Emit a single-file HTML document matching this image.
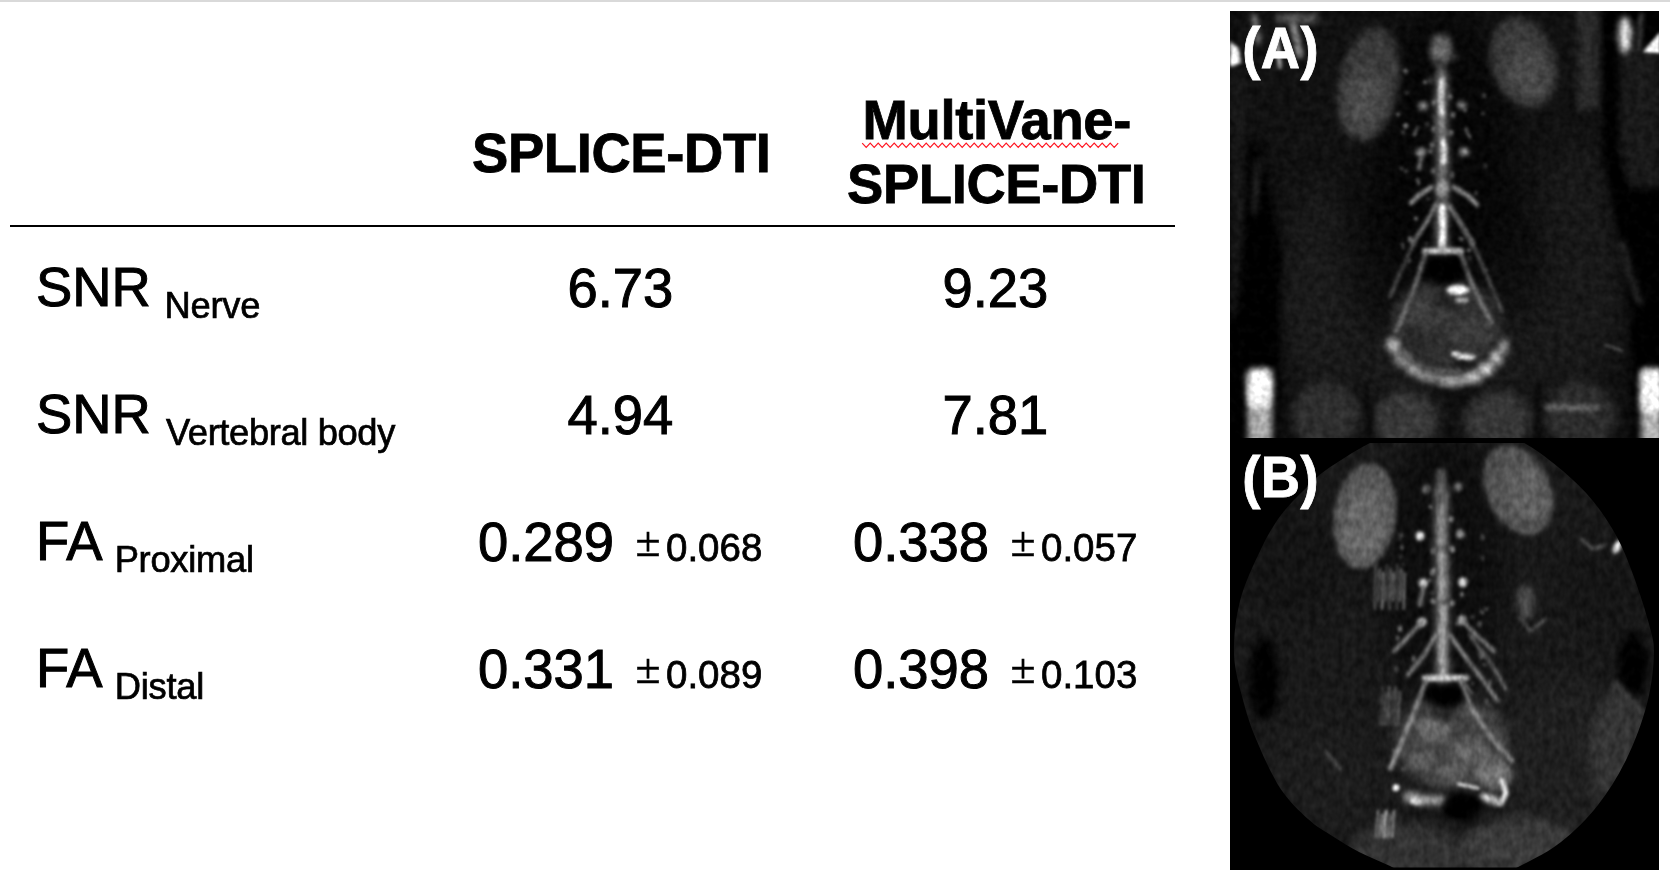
<!DOCTYPE html>
<html lang="en">
<head>
<meta charset="utf-8">
<title>SPLICE-DTI vs MultiVane-SPLICE-DTI</title>
<style>
  html, body { margin: 0; padding: 0; background: #fff; }
  body { width: 1670px; height: 878px; position: relative; overflow: hidden;
         font-family: "Liberation Sans", "Noto Sans CJK JP", sans-serif; color: #000; }
  .topbar { position: absolute; left: 0; top: 0; width: 1670px; height: 2px; background: #d9d9d9; }
  .rule { position: absolute; left: 10px; top: 225px; width: 1165px; height: 2px; background: #000; }
  .t { position: absolute; white-space: nowrap; line-height: 1; margin: 0; transform-origin: 0 84.65%; }
  .hd { font-weight: bold; font-size: 54.4px; letter-spacing: -0.36px; -webkit-text-stroke: 0.8px #000; transform: scaleY(1.015); }
  .big { font-size: 54.4px; -webkit-text-stroke: 1px #000; transform: scaleY(1.02); }
  .sub { font-size: 36.3px; position: relative; top: 12.3px; -webkit-text-stroke: 0.7px #000; }
  .sm { font-size: 38.5px; -webkit-text-stroke: 0.75px #000; transform: scaleY(1.02); }
  .pm { font-family: "IPAGothic", "Noto Sans CJK JP", sans-serif; font-size: 31px; -webkit-text-stroke: 0.5px #000; position: relative; top: -3.5px; margin-left: 1px; margin-right: 2.5px; display: inline-block; transform: scaleY(1.09); transform-origin: 50% 80%; }
  #panel { position: absolute; left: 1230px; top: 11px; width: 429px; height: 859px; background: #000; overflow: hidden; }
  .lab { color: #fff; font-weight: bold; font-size: 54.4px; letter-spacing: 0.5px; -webkit-text-stroke: 0.8px #fff; transform: scaleY(1.043); }
</style>
</head>
<body>
<div class="topbar"></div>

<!-- header -->
<div class="t hd" id="h1" style="left:472px; top:127px;">SPLICE-DTI</div>
<div class="t hd" id="h2a" style="left:862.6px; top:94px;">MultiVane-</div>
<svg id="sq" style="position:absolute; left:860px; top:140px;" width="262" height="10" viewBox="0 0 262 10">
  <polyline fill="none" stroke="#ff1420" stroke-width="1.15" stroke-linejoin="miter"
    points="2.2,3.1 6.2,7.3 10.2,3.1 14.2,7.3 18.2,3.1 22.2,7.3 26.2,3.1 30.2,7.3 34.2,3.1 38.2,7.3 42.2,3.1 46.2,7.3 50.2,3.1 54.2,7.3 58.2,3.1 62.2,7.3 66.2,3.1 70.2,7.3 74.2,3.1 78.2,7.3 82.2,3.1 86.2,7.3 90.2,3.1 94.2,7.3 98.2,3.1 102.2,7.3 106.2,3.1 110.2,7.3 114.2,3.1 118.2,7.3 122.2,3.1 126.2,7.3 130.2,3.1 134.2,7.3 138.2,3.1 142.2,7.3 146.2,3.1 150.2,7.3 154.2,3.1 158.2,7.3 162.2,3.1 166.2,7.3 170.2,3.1 174.2,7.3 178.2,3.1 182.2,7.3 186.2,3.1 190.2,7.3 194.2,3.1 198.2,7.3 202.2,3.1 206.2,7.3 210.2,3.1 214.2,7.3 218.2,3.1 222.2,7.3 226.2,3.1 230.2,7.3 234.2,3.1 238.2,7.3 242.2,3.1 246.2,7.3 250.2,3.1 254.2,7.3 258.2,3.1"/>
</svg>
<div class="t hd" id="h2b" style="left:847px; top:158.2px;">SPLICE-DTI</div>
<div class="rule"></div>

<!-- row labels -->
<div class="t big" id="r1" style="left:36px; top:261px;">SNR <span class="sub" style="margin-left:-1.5px; letter-spacing:-0.2px;">Nerve</span></div>
<div class="t big" id="r2" style="left:36px; top:388px;">SNR <span class="sub" style="letter-spacing:-0.36px;">Vertebral body</span></div>
<div class="t big" id="r3" style="left:36px; top:515px;">FA <span class="sub" style="letter-spacing:-0.25px;">Proximal</span></div>
<div class="t big" id="r4" style="left:36px; top:642px;">FA <span class="sub" style="letter-spacing:-0.2px;">Distal</span></div>

<!-- values col 1 -->
<div class="t big" id="a1" style="left:567.5px; top:261.8px;">6.73</div>
<div class="t big" id="a2" style="left:567.5px; top:388.8px;">4.94</div>
<div class="t big" id="a3" style="left:478px; top:515.8px;">0.289</div>
<div class="t big" id="a4" style="left:478px; top:642.8px;">0.331</div>
<div class="t sm" id="a3e" style="left:631.5px; top:528.5px;"><span class="pm">±</span>0.068</div>
<div class="t sm" id="a4e" style="left:631.5px; top:655.5px;"><span class="pm">±</span>0.089</div>

<!-- values col 2 -->
<div class="t big" id="b1" style="left:942.5px; top:261.8px;">9.23</div>
<div class="t big" id="b2" style="left:942.5px; top:388.8px;">7.81</div>
<div class="t big" id="b3" style="left:853px; top:515.8px;">0.338</div>
<div class="t big" id="b4" style="left:853px; top:642.8px;">0.398</div>
<div class="t sm" id="b3e" style="left:1006.5px; top:528.5px;"><span class="pm">±</span>0.057</div>
<div class="t sm" id="b4e" style="left:1006.5px; top:655.5px;"><span class="pm">±</span>0.103</div>

<!-- image panel -->
<div id="panel">
<!--MRI-START-->
<svg width="429" height="859" viewBox="0 0 429 859" style="position:absolute;left:0;top:0;display:block">
<defs>
<filter id="mri-b1" color-interpolation-filters="sRGB" filterUnits="userSpaceOnUse" x="-60" y="-60" width="550" height="560"><feGaussianBlur stdDeviation="0.8"/></filter>
<filter id="mri-b15" color-interpolation-filters="sRGB" filterUnits="userSpaceOnUse" x="-60" y="-60" width="550" height="560"><feGaussianBlur stdDeviation="1.5"/></filter>
<filter id="mri-b2" color-interpolation-filters="sRGB" filterUnits="userSpaceOnUse" x="-60" y="-60" width="550" height="560"><feGaussianBlur stdDeviation="2.2"/></filter>
<filter id="mri-b3" color-interpolation-filters="sRGB" filterUnits="userSpaceOnUse" x="-60" y="-60" width="550" height="560"><feGaussianBlur stdDeviation="3.2"/></filter>
<filter id="mri-b5" color-interpolation-filters="sRGB" filterUnits="userSpaceOnUse" x="-60" y="-60" width="550" height="560"><feGaussianBlur stdDeviation="5"/></filter>
<filter id="mri-b8" color-interpolation-filters="sRGB" filterUnits="userSpaceOnUse" x="-60" y="-60" width="550" height="560"><feGaussianBlur stdDeviation="8"/></filter>
<filter id="mri-b12" color-interpolation-filters="sRGB" filterUnits="userSpaceOnUse" x="-60" y="-60" width="550" height="560"><feGaussianBlur stdDeviation="12"/></filter>
<filter id="mri-b20" color-interpolation-filters="sRGB" filterUnits="userSpaceOnUse" x="-60" y="-60" width="550" height="560"><feGaussianBlur stdDeviation="20"/></filter>
<filter id="mri-softA" color-interpolation-filters="sRGB" filterUnits="userSpaceOnUse" x="0" y="0" width="429" height="432"><feGaussianBlur in="SourceGraphic" stdDeviation="1.0" result="s"/><feTurbulence type="fractalNoise" baseFrequency="0.13" numOctaves="2" seed="3" result="t"/><feColorMatrix in="t" type="matrix" values="1 0 0 0 0  1 0 0 0 0  1 0 0 0 0  0 0 0 0 1" result="n"/><feComposite in="s" in2="n" operator="arithmetic" k1="0.44" k2="0.78" k3="0.06" k4="-0.03"/></filter>
<filter id="mri-softB" color-interpolation-filters="sRGB" filterUnits="userSpaceOnUse" x="0" y="0" width="429" height="432"><feGaussianBlur in="SourceGraphic" stdDeviation="1.0" result="s"/><feTurbulence type="fractalNoise" baseFrequency="0.15 0.10" numOctaves="2" seed="11" result="t"/><feColorMatrix in="t" type="matrix" values="1 0 0 0 0  1 0 0 0 0  1 0 0 0 0  0 0 0 0 1" result="n"/><feComposite in="s" in2="n" operator="arithmetic" k1="0.46" k2="0.77" k3="0.06" k4="-0.03"/></filter>
<clipPath id="mri-clipA"><rect x="0" y="0" width="429" height="427"/></clipPath>
<clipPath id="mri-clipB"><path d="M4.0,215.0C3.5,198.5 5.6,179.3 10.0,162.0C14.4,144.7 23.7,125.3 30.5,111.0C37.3,96.7 43.1,86.6 51.0,76.0C58.9,65.4 70.1,55.1 77.6,47.6C85.1,40.1 85.9,38.1 96.0,31.0C106.1,23.9 124.8,11.8 138.0,5.0C151.2,-1.8 154.7,-7.5 175.0,-10.0C195.3,-12.5 239.8,-12.5 260.0,-10.0C280.2,-7.5 283.8,-2.0 296.0,5.0C308.2,12.0 321.8,22.5 333.0,32.0C344.2,41.5 354.0,51.0 363.0,62.0C372.0,73.0 380.2,85.3 387.0,98.0C393.8,110.7 398.7,123.5 404.0,138.0C409.3,152.5 415.7,172.2 419.0,185.0C422.3,197.8 424.3,201.7 424.0,215.0C423.7,228.3 421.5,247.7 417.0,265.0C412.5,282.3 405.2,302.2 397.0,319.0C388.8,335.8 379.0,352.0 368.0,366.0C357.0,380.0 344.0,392.8 331.0,403.0C318.0,413.2 302.7,420.5 290.0,427.0C277.3,433.5 271.7,439.5 255.0,442.0C238.3,444.5 205.8,444.5 190.0,442.0C174.2,439.5 170.2,431.8 160.0,427.0C149.8,422.2 138.5,417.9 129.0,413.0C119.5,408.1 111.5,403.0 103.0,397.5C94.5,392.0 86.8,388.1 78.0,380.0C69.2,371.9 58.7,362.3 50.0,349.0C41.3,335.7 32.2,314.7 26.0,300.0C19.8,285.3 16.7,275.2 13.0,261.0C9.3,246.8 4.5,231.5 4.0,215.0Z"/></clipPath>
<clipPath id="mri-clipBr"><rect x="0" y="4" width="429" height="424.5"/></clipPath>
</defs>
<rect width="429" height="859" fill="#000"/>
<g clip-path="url(#mri-clipA)"><g filter="url(#mri-softA)">
<rect x="0" y="0" width="429" height="432" fill="#000000"/>
<polygon points="0,-5 380,-5 392,120 402,250 404,440 44,440 44,250 30,130 0,130" fill="#111111" filter="url(#mri-b8)"/>
<ellipse cx="215" cy="310" rx="170" ry="90" fill="#1b1b1b" filter="url(#mri-b20)" fill-opacity="0.9"/>
<rect x="0" y="60" width="16" height="245" fill="#181818" filter="url(#mri-b5)"/>
<rect x="388" y="36" width="45" height="140" fill="#191919" filter="url(#mri-b5)"/>
<ellipse cx="88" cy="270" rx="34" ry="100" fill="#1b1b1b" filter="url(#mri-b12)" fill-opacity="0.8"/>
<ellipse cx="345" cy="250" rx="42" ry="120" fill="#1a1a1a" filter="url(#mri-b12)" fill-opacity="0.9"/>
<polygon points="28,135 36,180 50,235 50,330 46,440 4,440 4,330 14,235 22,180" fill="#000000" filter="url(#mri-b5)"/>
<rect x="0" y="310" width="20" height="130" fill="#000000" filter="url(#mri-b3)"/>
<polygon points="372,-5 386,-5 388,140 402,190 420,250 432,300 432,440 408,440 402,300 388,220 374,150" fill="#000000" filter="url(#mri-b3)"/>
<ellipse cx="212" cy="150" rx="70" ry="150" fill="#050505" filter="url(#mri-b12)" fill-opacity="0.8"/>
<ellipse cx="160" cy="250" rx="42" ry="70" fill="#060606" filter="url(#mri-b12)" fill-opacity="0.55"/>
<ellipse cx="275" cy="250" rx="40" ry="60" fill="#060606" filter="url(#mri-b12)" fill-opacity="0.55"/>
<rect x="347" y="-5" width="22" height="104" fill="#2e2e2e" filter="url(#mri-b3)" fill-opacity="0.85"/>
<ellipse cx="139" cy="73" rx="30" ry="57" fill="#383838" transform="rotate(10 139 73)" filter="url(#mri-b3)"/>
<ellipse cx="135" cy="90" rx="19" ry="32" fill="#505050" transform="rotate(10 135 90)" filter="url(#mri-b8)" fill-opacity="0.85"/>
<ellipse cx="293" cy="51" rx="32" ry="46" fill="#383838" transform="rotate(-16 293 51)" filter="url(#mri-b3)"/>
<ellipse cx="299" cy="62" rx="19" ry="27" fill="#505050" transform="rotate(-16 299 62)" filter="url(#mri-b8)" fill-opacity="0.8"/>
<ellipse cx="96" cy="404" rx="34" ry="34" fill="#2e2e2e" filter="url(#mri-b5)"/>
<ellipse cx="176" cy="410" rx="32" ry="30" fill="#383838" filter="url(#mri-b5)"/>
<ellipse cx="268" cy="410" rx="34" ry="30" fill="#363636" filter="url(#mri-b5)"/>
<ellipse cx="350" cy="404" rx="36" ry="34" fill="#2c2c2c" filter="url(#mri-b5)"/>
<polyline points="136,372 140,432" fill="none" stroke="#0a0a0a" stroke-width="5" stroke-linecap="round" stroke-linejoin="round" filter="url(#mri-b2)"/>
<polyline points="308,372 306,432" fill="none" stroke="#0a0a0a" stroke-width="5" stroke-linecap="round" stroke-linejoin="round" filter="url(#mri-b2)"/>
<polygon points="200,378 252,378 226,400" fill="#0e0e0e" filter="url(#mri-b3)"/>
<polyline points="226,398 226,432" fill="none" stroke="#0e0e0e" stroke-width="4" stroke-linecap="round" stroke-linejoin="round" filter="url(#mri-b2)"/>
<polygon points="0,30 9,38 11,52 0,56" fill="#f5f5f5" filter="url(#mri-b15)"/>
<polyline points="24,6 28,30" fill="none" stroke="#5f5f5f" stroke-width="7" stroke-linecap="round" stroke-linejoin="round" filter="url(#mri-b2)"/>
<polyline points="62,8 70,44" fill="none" stroke="#969696" stroke-width="6" stroke-linecap="round" stroke-linejoin="round" filter="url(#mri-b2)"/>
<polyline points="47,30 50,56" fill="none" stroke="#afafaf" stroke-width="4" stroke-linecap="round" stroke-linejoin="round" filter="url(#mri-b15)"/>
<rect x="46" y="3" width="42" height="9" fill="#555555" filter="url(#mri-b3)"/>
<ellipse cx="395" cy="24" rx="6.5" ry="18" fill="#e1e1e1" filter="url(#mri-b3)"/>
<polygon points="413,41 430,21 430,42" fill="#ffffff" filter="url(#mri-b1)"/>
<polyline points="411,4 409,38" fill="none" stroke="#464646" stroke-width="4" stroke-linecap="round" stroke-linejoin="round" filter="url(#mri-b2)"/>
<rect x="18" y="358" width="24" height="80" fill="#afafaf" rx="5" filter="url(#mri-b3)"/>
<rect x="18" y="359" width="23" height="36" fill="#ffffff" rx="6" filter="url(#mri-b3)"/>
<rect x="411" y="358" width="21" height="80" fill="#b4b4b4" rx="4" filter="url(#mri-b3)"/>
<rect x="411" y="359" width="20" height="42" fill="#ffffff" rx="5" filter="url(#mri-b3)"/>
<ellipse cx="188.4" cy="171.7" rx="1.7" ry="2.6" fill="#646464" filter="url(#mri-b1)"/>
<ellipse cx="185.3" cy="122.2" rx="1.4" ry="1.9" fill="#787878" filter="url(#mri-b1)"/>
<ellipse cx="223.4" cy="273.9" rx="1.7" ry="1.7" fill="#373737" filter="url(#mri-b1)"/>
<ellipse cx="255.9" cy="258.9" rx="2.5" ry="2.3" fill="#373737" filter="url(#mri-b1)"/>
<ellipse cx="239.9" cy="246.7" rx="2.2" ry="2.7" fill="#373737" filter="url(#mri-b1)"/>
<ellipse cx="177.1" cy="82.1" rx="2.4" ry="1.4" fill="#464646" filter="url(#mri-b1)"/>
<ellipse cx="235.0" cy="99.1" rx="2.2" ry="2.1" fill="#464646" filter="url(#mri-b1)"/>
<ellipse cx="175.7" cy="114.7" rx="2.6" ry="2.7" fill="#787878" filter="url(#mri-b1)"/>
<ellipse cx="198.7" cy="187.6" rx="2.4" ry="1.7" fill="#464646" filter="url(#mri-b1)"/>
<ellipse cx="231.2" cy="317.6" rx="2.0" ry="1.8" fill="#646464" filter="url(#mri-b1)"/>
<ellipse cx="230.3" cy="284.9" rx="1.6" ry="2.4" fill="#646464" filter="url(#mri-b1)"/>
<ellipse cx="185.8" cy="207.7" rx="2.3" ry="1.7" fill="#787878" filter="url(#mri-b1)"/>
<ellipse cx="240.5" cy="227.4" rx="1.6" ry="1.6" fill="#555555" filter="url(#mri-b1)"/>
<ellipse cx="233.1" cy="220.4" rx="1.8" ry="1.5" fill="#373737" filter="url(#mri-b1)"/>
<ellipse cx="175.8" cy="160.0" rx="2.2" ry="2.3" fill="#464646" filter="url(#mri-b1)"/>
<ellipse cx="253.1" cy="102.4" rx="2.3" ry="1.4" fill="#555555" filter="url(#mri-b1)"/>
<ellipse cx="238.7" cy="239.4" rx="2.5" ry="1.7" fill="#787878" filter="url(#mri-b1)"/>
<ellipse cx="187.6" cy="168.8" rx="2.3" ry="1.5" fill="#555555" filter="url(#mri-b1)"/>
<ellipse cx="173.1" cy="237.1" rx="1.4" ry="1.7" fill="#646464" filter="url(#mri-b1)"/>
<ellipse cx="172.5" cy="233.6" rx="1.6" ry="1.6" fill="#646464" filter="url(#mri-b1)"/>
<ellipse cx="194.2" cy="318.8" rx="2.0" ry="2.4" fill="#373737" filter="url(#mri-b1)"/>
<ellipse cx="171.5" cy="157.5" rx="1.6" ry="1.9" fill="#646464" filter="url(#mri-b1)"/>
<ellipse cx="241.3" cy="289.0" rx="1.8" ry="2.1" fill="#555555" filter="url(#mri-b1)"/>
<ellipse cx="176.1" cy="60.8" rx="2.2" ry="2.7" fill="#373737" filter="url(#mri-b1)"/>
<ellipse cx="241.8" cy="233.1" rx="2.4" ry="2.2" fill="#555555" filter="url(#mri-b1)"/>
<ellipse cx="247.3" cy="278.9" rx="1.6" ry="1.6" fill="#646464" filter="url(#mri-b1)"/>
<ellipse cx="196.5" cy="232.6" rx="2.3" ry="1.5" fill="#373737" filter="url(#mri-b1)"/>
<ellipse cx="225.4" cy="204.5" rx="1.8" ry="2.1" fill="#464646" filter="url(#mri-b1)"/>
<ellipse cx="196.6" cy="291.2" rx="1.6" ry="2.4" fill="#373737" filter="url(#mri-b1)"/>
<ellipse cx="175.3" cy="60.1" rx="2.0" ry="1.5" fill="#787878" filter="url(#mri-b1)"/>
<ellipse cx="173.1" cy="121.5" rx="2.6" ry="2.2" fill="#373737" filter="url(#mri-b1)"/>
<ellipse cx="189.4" cy="142.2" rx="2.5" ry="1.8" fill="#787878" filter="url(#mri-b1)"/>
<ellipse cx="254.2" cy="84.8" rx="2.1" ry="2.1" fill="#555555" filter="url(#mri-b1)"/>
<ellipse cx="231.2" cy="227.9" rx="2.3" ry="1.7" fill="#787878" filter="url(#mri-b1)"/>
<ellipse cx="255.2" cy="154.6" rx="1.8" ry="2.8" fill="#373737" filter="url(#mri-b1)"/>
<ellipse cx="180.2" cy="228.4" rx="2.4" ry="2.8" fill="#787878" filter="url(#mri-b1)"/>
<ellipse cx="179.2" cy="249.9" rx="2.0" ry="2.1" fill="#646464" filter="url(#mri-b1)"/>
<ellipse cx="195.1" cy="71.3" rx="1.9" ry="1.7" fill="#787878" filter="url(#mri-b1)"/>
<ellipse cx="246.3" cy="182.0" rx="1.7" ry="1.9" fill="#646464" filter="url(#mri-b1)"/>
<ellipse cx="180.9" cy="320.0" rx="1.5" ry="2.1" fill="#646464" filter="url(#mri-b1)"/>
<ellipse cx="246.1" cy="300.2" rx="2.3" ry="2.3" fill="#787878" filter="url(#mri-b1)"/>
<ellipse cx="229.6" cy="307.3" rx="1.9" ry="2.3" fill="#787878" filter="url(#mri-b1)"/>
<ellipse cx="197.3" cy="113.0" rx="2.5" ry="2.4" fill="#373737" filter="url(#mri-b1)"/>
<ellipse cx="200.2" cy="140.3" rx="2.5" ry="2.4" fill="#646464" filter="url(#mri-b1)"/>
<ellipse cx="168.3" cy="103.3" rx="1.9" ry="2.4" fill="#555555" filter="url(#mri-b1)"/>
<ellipse cx="193.9" cy="316.7" rx="1.8" ry="1.8" fill="#464646" filter="url(#mri-b1)"/>
<ellipse cx="211" cy="39" rx="11" ry="16" fill="#686868" filter="url(#mri-b3)"/>
<polyline points="211,50 211,70" fill="none" stroke="#373737" stroke-width="8" stroke-linecap="round" stroke-linejoin="round" filter="url(#mri-b2)"/>
<polyline points="212,64 211,110 213,150 212,190 212,238" fill="none" stroke="#606060" stroke-width="13" stroke-linecap="round" stroke-linejoin="round" filter="url(#mri-b3)"/>
<polyline points="212,70 211,88 212,104" fill="none" stroke="#dcdcdc" stroke-width="5.5" stroke-linecap="round" stroke-linejoin="round" filter="url(#mri-b15)"/>
<polyline points="212,106 212,126" fill="none" stroke="#828282" stroke-width="5" stroke-linecap="round" stroke-linejoin="round" filter="url(#mri-b15)"/>
<polyline points="213,130 214,142 213,152" fill="none" stroke="#ebebeb" stroke-width="5.5" stroke-linecap="round" stroke-linejoin="round" filter="url(#mri-b15)"/>
<polyline points="212,156 212,172" fill="none" stroke="#787878" stroke-width="5" stroke-linecap="round" stroke-linejoin="round" filter="url(#mri-b15)"/>
<ellipse cx="212" cy="178" rx="6" ry="7" fill="#a0a0a0" filter="url(#mri-b2)"/>
<polyline points="212,196 213,216 212,236" fill="none" stroke="#fafafa" stroke-width="6.5" stroke-linecap="round" stroke-linejoin="round" filter="url(#mri-b15)"/>
<ellipse cx="193" cy="95" rx="5" ry="4" fill="#969696" filter="url(#mri-b2)"/>
<ellipse cx="232" cy="94" rx="4.5" ry="4" fill="#828282" filter="url(#mri-b2)"/>
<ellipse cx="191" cy="141" rx="5" ry="4" fill="#a5a5a5" filter="url(#mri-b2)"/>
<ellipse cx="234" cy="141" rx="5" ry="4" fill="#a0a0a0" filter="url(#mri-b2)"/>
<ellipse cx="200" cy="70" rx="4" ry="3" fill="#464646" filter="url(#mri-b2)"/>
<ellipse cx="225" cy="46" rx="4" ry="3" fill="#3c3c3c" filter="url(#mri-b2)"/>
<polyline points="191,146 189,158" fill="none" stroke="#737373" stroke-width="4" stroke-linecap="round" stroke-linejoin="round" filter="url(#mri-b15)"/>
<polyline points="201,176 188,185 181,192" fill="none" stroke="#969696" stroke-width="4.5" stroke-linecap="round" stroke-linejoin="round" filter="url(#mri-b15)"/>
<polyline points="224,176 238,185 247,194" fill="none" stroke="#969696" stroke-width="4.5" stroke-linecap="round" stroke-linejoin="round" filter="url(#mri-b15)"/>
<polyline points="236,118 240,126" fill="none" stroke="#5a5a5a" stroke-width="3" stroke-linecap="round" stroke-linejoin="round" filter="url(#mri-b1)"/>
<polyline points="188,116 184,124" fill="none" stroke="#505050" stroke-width="3" stroke-linecap="round" stroke-linejoin="round" filter="url(#mri-b1)"/>
<ellipse cx="204" cy="118" rx="2.5" ry="3" fill="#646464" filter="url(#mri-b1)"/>
<ellipse cx="221" cy="122" rx="2.5" ry="3" fill="#646464" filter="url(#mri-b1)"/>
<ellipse cx="203" cy="160" rx="2.5" ry="3" fill="#646464" filter="url(#mri-b1)"/>
<ellipse cx="222" cy="164" rx="2.5" ry="3" fill="#646464" filter="url(#mri-b1)"/>
<ellipse cx="204" cy="92" rx="2.5" ry="3" fill="#646464" filter="url(#mri-b1)"/>
<ellipse cx="220" cy="86" rx="2.5" ry="3" fill="#646464" filter="url(#mri-b1)"/>
<ellipse cx="202" cy="134" rx="2.5" ry="3" fill="#646464" filter="url(#mri-b1)"/>
<ellipse cx="223" cy="104" rx="2.5" ry="3" fill="#646464" filter="url(#mri-b1)"/>
<ellipse cx="216" cy="312" rx="56" ry="44" fill="#303030" filter="url(#mri-b5)"/>
<ellipse cx="198" cy="300" rx="22" ry="16" fill="#3e3e3e" filter="url(#mri-b5)"/>
<ellipse cx="242" cy="322" rx="24" ry="16" fill="#3c3c3c" filter="url(#mri-b5)"/>
<ellipse cx="186" cy="330" rx="14" ry="10" fill="#282828" filter="url(#mri-b3)"/>
<ellipse cx="214" cy="290" rx="12" ry="8" fill="#222222" filter="url(#mri-b3)"/>
<polyline points="206,194 196,212 183,232" fill="none" stroke="#7d7d7d" stroke-width="4" stroke-linecap="round" stroke-linejoin="round" filter="url(#mri-b15)"/>
<polyline points="219,194 230,212 243,232" fill="none" stroke="#7d7d7d" stroke-width="4" stroke-linecap="round" stroke-linejoin="round" filter="url(#mri-b15)"/>
<polyline points="195,240 231,240" fill="none" stroke="#b9b9b9" stroke-width="6" stroke-linecap="round" stroke-linejoin="round" filter="url(#mri-b15)"/>
<polyline points="196,242 188,266 176,298 166,320" fill="none" stroke="#6e6e6e" stroke-width="4.5" stroke-linecap="round" stroke-linejoin="round" filter="url(#mri-b15)"/>
<polyline points="230,242 240,268 252,294 262,312" fill="none" stroke="#6e6e6e" stroke-width="4.5" stroke-linecap="round" stroke-linejoin="round" filter="url(#mri-b15)"/>
<polyline points="226,204 246,240 262,276 272,300" fill="none" stroke="#505050" stroke-width="3.5" stroke-linecap="round" stroke-linejoin="round" filter="url(#mri-b15)"/>
<polyline points="184,232 170,262 160,286" fill="none" stroke="#4b4b4b" stroke-width="3.5" stroke-linecap="round" stroke-linejoin="round" filter="url(#mri-b15)"/>
<polygon points="199,247 227,247 236,262 222,274 204,272 194,260" fill="#000000" filter="url(#mri-b3)"/>
<ellipse cx="228" cy="279" rx="11" ry="5" fill="#ffffff" filter="url(#mri-b15)"/>
<ellipse cx="232" cy="289" rx="7" ry="3" fill="#a5a5a5" filter="url(#mri-b15)"/>
<polyline points="163,332 170,348 184,360 204,368 224,371 246,366 264,352 274,336" fill="none" stroke="#696969" stroke-width="9" stroke-linecap="round" stroke-linejoin="round" filter="url(#mri-b3)"/>
<ellipse cx="163" cy="334" rx="7" ry="7" fill="#afafaf" filter="url(#mri-b3)"/>
<ellipse cx="172" cy="349" rx="8" ry="5" fill="#8a8a8a" filter="url(#mri-b3)"/>
<ellipse cx="183" cy="358" rx="6" ry="4" fill="#bdbdbd" filter="url(#mri-b3)"/>
<ellipse cx="197" cy="365" rx="10" ry="4" fill="#939393" filter="url(#mri-b3)"/>
<ellipse cx="222" cy="370" rx="12" ry="4.5" fill="#aaaaaa" filter="url(#mri-b3)"/>
<ellipse cx="243" cy="366" rx="9" ry="5" fill="#cacaca" filter="url(#mri-b3)"/>
<ellipse cx="256" cy="358" rx="7" ry="6" fill="#d8d8d8" filter="url(#mri-b3)"/>
<ellipse cx="266" cy="347" rx="6" ry="7" fill="#b8b8b8" filter="url(#mri-b3)"/>
<ellipse cx="274" cy="334" rx="4" ry="7" fill="#939393" filter="url(#mri-b3)"/>
<polyline points="172,340 186,354 206,360 230,360" fill="none" stroke="#5f5f5f" stroke-width="5" stroke-linecap="round" stroke-linejoin="round" filter="url(#mri-b2)"/>
<ellipse cx="236" cy="346" rx="10" ry="3.5" fill="#e1e1e1" filter="url(#mri-b15)"/>
<ellipse cx="226" cy="343" rx="5" ry="3" fill="#c8c8c8" filter="url(#mri-b1)"/>
<ellipse cx="232" cy="353" rx="8" ry="4" fill="#181818" filter="url(#mri-b15)"/>
<polyline points="318,396 366,397" fill="none" stroke="#737373" stroke-width="5" stroke-linecap="round" stroke-linejoin="round" filter="url(#mri-b2)"/>
<polyline points="376,334 392,340" fill="none" stroke="#505050" stroke-width="2.5" stroke-linecap="round" stroke-linejoin="round" filter="url(#mri-b1)"/>
<polyline points="392,232 400,262 410,292" fill="none" stroke="#323232" stroke-width="5" stroke-linecap="round" stroke-linejoin="round" filter="url(#mri-b3)"/>
<polyline points="28,150 24,200" fill="none" stroke="#2c2c2c" stroke-width="5" stroke-linecap="round" stroke-linejoin="round" filter="url(#mri-b3)"/>
</g></g>
<g transform="translate(0 428)">
<g clip-path="url(#mri-clipBr)"><g clip-path="url(#mri-clipB)"><g filter="url(#mri-softB)">
<rect x="0" y="0" width="429" height="432" fill="#191919"/>
<ellipse cx="212" cy="130" rx="62" ry="140" fill="#0a0a0a" filter="url(#mri-b12)" fill-opacity="0.7"/>
<ellipse cx="60" cy="120" rx="50" ry="60" fill="#101010" filter="url(#mri-b12)" fill-opacity="0.6"/>
<ellipse cx="370" cy="150" rx="40" ry="50" fill="#121212" filter="url(#mri-b12)" fill-opacity="0.5"/>
<ellipse cx="34" cy="240" rx="15" ry="42" fill="#000000" filter="url(#mri-b5)"/>
<ellipse cx="403" cy="226" rx="15" ry="32" fill="#000000" filter="url(#mri-b5)"/>
<ellipse cx="90" cy="340" rx="70" ry="60" fill="#1d1d1d" filter="url(#mri-b12)" fill-opacity="0.8"/>
<ellipse cx="340" cy="320" rx="70" ry="80" fill="#212121" filter="url(#mri-b12)" fill-opacity="0.85"/>
<polygon points="384,243 428,290 404,340 366,362 356,300" fill="#343434" filter="url(#mri-b5)"/>
<polyline points="386,245 412,273" fill="none" stroke="#464646" stroke-width="4" stroke-linecap="round" stroke-linejoin="round" filter="url(#mri-b2)"/>
<ellipse cx="175" cy="416" rx="58" ry="32" fill="#323232" filter="url(#mri-b5)"/>
<ellipse cx="290" cy="412" rx="62" ry="34" fill="#3a3a3a" filter="url(#mri-b5)"/>
<ellipse cx="135" cy="77" rx="31" ry="53" fill="#565656" transform="rotate(8 135 77)" filter="url(#mri-b2)"/>
<ellipse cx="134" cy="86" rx="22" ry="36" fill="#686868" transform="rotate(8 134 86)" filter="url(#mri-b5)" fill-opacity="0.85"/>
<ellipse cx="288" cy="51" rx="32" ry="47" fill="#505050" transform="rotate(-24 288 51)" filter="url(#mri-b2)"/>
<ellipse cx="297" cy="55" rx="21" ry="30" fill="#626262" transform="rotate(-24 297 55)" filter="url(#mri-b5)" fill-opacity="0.85"/>
<polyline points="146.0,126 145.0,170" fill="none" stroke="#555555" stroke-width="2" stroke-linecap="round" stroke-linejoin="round" filter="url(#mri-b1)"/>
<polyline points="149.6,130 148.6,162" fill="none" stroke="#6e6e6e" stroke-width="2" stroke-linecap="round" stroke-linejoin="round" filter="url(#mri-b1)"/>
<polyline points="153.2,134 152.2,170" fill="none" stroke="#878787" stroke-width="2" stroke-linecap="round" stroke-linejoin="round" filter="url(#mri-b1)"/>
<polyline points="156.8,126 155.8,162" fill="none" stroke="#555555" stroke-width="2" stroke-linecap="round" stroke-linejoin="round" filter="url(#mri-b1)"/>
<polyline points="160.4,130 159.4,170" fill="none" stroke="#6e6e6e" stroke-width="2" stroke-linecap="round" stroke-linejoin="round" filter="url(#mri-b1)"/>
<polyline points="164.0,134 163.0,162" fill="none" stroke="#878787" stroke-width="2" stroke-linecap="round" stroke-linejoin="round" filter="url(#mri-b1)"/>
<polyline points="167.6,126 166.6,170" fill="none" stroke="#555555" stroke-width="2" stroke-linecap="round" stroke-linejoin="round" filter="url(#mri-b1)"/>
<polyline points="171.2,130 170.2,162" fill="none" stroke="#6e6e6e" stroke-width="2" stroke-linecap="round" stroke-linejoin="round" filter="url(#mri-b1)"/>
<polyline points="174.8,134 173.8,170" fill="none" stroke="#878787" stroke-width="2" stroke-linecap="round" stroke-linejoin="round" filter="url(#mri-b1)"/>
<polyline points="152.0,248 151.0,286" fill="none" stroke="#4b4b4b" stroke-width="2" stroke-linecap="round" stroke-linejoin="round" filter="url(#mri-b1)"/>
<polyline points="155.5,253 154.5,286" fill="none" stroke="#5f5f5f" stroke-width="2" stroke-linecap="round" stroke-linejoin="round" filter="url(#mri-b1)"/>
<polyline points="159.0,248 158.0,286" fill="none" stroke="#737373" stroke-width="2" stroke-linecap="round" stroke-linejoin="round" filter="url(#mri-b1)"/>
<polyline points="162.5,253 161.5,286" fill="none" stroke="#4b4b4b" stroke-width="2" stroke-linecap="round" stroke-linejoin="round" filter="url(#mri-b1)"/>
<polyline points="166.0,248 165.0,286" fill="none" stroke="#5f5f5f" stroke-width="2" stroke-linecap="round" stroke-linejoin="round" filter="url(#mri-b1)"/>
<polyline points="169.5,253 168.5,286" fill="none" stroke="#737373" stroke-width="2" stroke-linecap="round" stroke-linejoin="round" filter="url(#mri-b1)"/>
<polyline points="148,372 146,398" fill="none" stroke="#787878" stroke-width="2.4" stroke-linecap="round" stroke-linejoin="round" filter="url(#mri-b1)"/>
<polyline points="152,376 150,398" fill="none" stroke="#a0a0a0" stroke-width="2.4" stroke-linecap="round" stroke-linejoin="round" filter="url(#mri-b1)"/>
<polyline points="156,372 154,398" fill="none" stroke="#c8c8c8" stroke-width="2.4" stroke-linecap="round" stroke-linejoin="round" filter="url(#mri-b1)"/>
<polyline points="160,376 158,398" fill="none" stroke="#787878" stroke-width="2.4" stroke-linecap="round" stroke-linejoin="round" filter="url(#mri-b1)"/>
<polyline points="164,372 162,398" fill="none" stroke="#a0a0a0" stroke-width="2.4" stroke-linecap="round" stroke-linejoin="round" filter="url(#mri-b1)"/>
<ellipse cx="178.3" cy="285.1" rx="1.7" ry="2.8" fill="#828282" filter="url(#mri-b1)"/>
<ellipse cx="164.8" cy="311.6" rx="2.3" ry="2.3" fill="#828282" filter="url(#mri-b1)"/>
<ellipse cx="238.4" cy="323.1" rx="2.0" ry="2.3" fill="#5a5a5a" filter="url(#mri-b1)"/>
<ellipse cx="256.1" cy="262.9" rx="2.3" ry="2.9" fill="#5a5a5a" filter="url(#mri-b1)"/>
<ellipse cx="242.7" cy="244.4" rx="1.5" ry="1.9" fill="#5a5a5a" filter="url(#mri-b1)"/>
<ellipse cx="164.4" cy="59.9" rx="1.8" ry="2.8" fill="#4b4b4b" filter="url(#mri-b1)"/>
<ellipse cx="233.5" cy="146.2" rx="2.1" ry="2.7" fill="#6e6e6e" filter="url(#mri-b1)"/>
<ellipse cx="176.2" cy="303.8" rx="1.8" ry="2.8" fill="#828282" filter="url(#mri-b1)"/>
<ellipse cx="200.5" cy="68.0" rx="2.2" ry="1.8" fill="#6e6e6e" filter="url(#mri-b1)"/>
<ellipse cx="234.6" cy="300.1" rx="2.1" ry="2.4" fill="#828282" filter="url(#mri-b1)"/>
<ellipse cx="251.8" cy="216.9" rx="1.9" ry="3.2" fill="#6e6e6e" filter="url(#mri-b1)"/>
<ellipse cx="202.6" cy="153.9" rx="2.2" ry="2.4" fill="#4b4b4b" filter="url(#mri-b1)"/>
<ellipse cx="166.5" cy="230.4" rx="2.1" ry="3.2" fill="#4b4b4b" filter="url(#mri-b1)"/>
<ellipse cx="249.4" cy="185.0" rx="2.1" ry="3.2" fill="#5a5a5a" filter="url(#mri-b1)"/>
<ellipse cx="231.9" cy="324.0" rx="1.8" ry="2.6" fill="#828282" filter="url(#mri-b1)"/>
<ellipse cx="236.1" cy="267.7" rx="1.7" ry="3.3" fill="#4b4b4b" filter="url(#mri-b1)"/>
<ellipse cx="165.6" cy="314.5" rx="1.7" ry="3.3" fill="#828282" filter="url(#mri-b1)"/>
<ellipse cx="173.3" cy="329.8" rx="2.2" ry="2.5" fill="#5a5a5a" filter="url(#mri-b1)"/>
<ellipse cx="250.3" cy="216.0" rx="1.9" ry="3.2" fill="#3c3c3c" filter="url(#mri-b1)"/>
<ellipse cx="184.3" cy="279.1" rx="2.2" ry="1.9" fill="#3c3c3c" filter="url(#mri-b1)"/>
<ellipse cx="169.4" cy="99.7" rx="2.0" ry="1.9" fill="#3c3c3c" filter="url(#mri-b1)"/>
<ellipse cx="259.8" cy="243.9" rx="1.4" ry="3.3" fill="#6e6e6e" filter="url(#mri-b1)"/>
<ellipse cx="167.3" cy="284.1" rx="1.5" ry="1.9" fill="#3c3c3c" filter="url(#mri-b1)"/>
<ellipse cx="172.1" cy="108.4" rx="1.5" ry="2.4" fill="#6e6e6e" filter="url(#mri-b1)"/>
<ellipse cx="258.8" cy="266.4" rx="2.2" ry="1.8" fill="#3c3c3c" filter="url(#mri-b1)"/>
<ellipse cx="254.6" cy="225.6" rx="1.7" ry="2.0" fill="#5a5a5a" filter="url(#mri-b1)"/>
<ellipse cx="189.8" cy="188.7" rx="1.8" ry="2.1" fill="#3c3c3c" filter="url(#mri-b1)"/>
<ellipse cx="170.3" cy="117.5" rx="1.6" ry="2.6" fill="#4b4b4b" filter="url(#mri-b1)"/>
<ellipse cx="242.2" cy="178.0" rx="2.0" ry="2.2" fill="#3c3c3c" filter="url(#mri-b1)"/>
<ellipse cx="199.9" cy="141.2" rx="1.8" ry="2.2" fill="#5a5a5a" filter="url(#mri-b1)"/>
<ellipse cx="183.7" cy="219.8" rx="2.0" ry="3.3" fill="#5a5a5a" filter="url(#mri-b1)"/>
<ellipse cx="173.3" cy="125.8" rx="1.8" ry="1.8" fill="#3c3c3c" filter="url(#mri-b1)"/>
<ellipse cx="171.0" cy="96.3" rx="2.3" ry="2.4" fill="#4b4b4b" filter="url(#mri-b1)"/>
<ellipse cx="222.6" cy="111.3" rx="2.2" ry="2.6" fill="#6e6e6e" filter="url(#mri-b1)"/>
<ellipse cx="170.0" cy="189.4" rx="2.2" ry="3.2" fill="#6e6e6e" filter="url(#mri-b1)"/>
<ellipse cx="232.0" cy="155.4" rx="1.7" ry="2.5" fill="#828282" filter="url(#mri-b1)"/>
<ellipse cx="252.2" cy="173.2" rx="1.8" ry="2.0" fill="#6e6e6e" filter="url(#mri-b1)"/>
<ellipse cx="192.1" cy="287.6" rx="1.5" ry="2.1" fill="#5a5a5a" filter="url(#mri-b1)"/>
<ellipse cx="256.5" cy="290.3" rx="1.5" ry="2.2" fill="#4b4b4b" filter="url(#mri-b1)"/>
<ellipse cx="256.3" cy="315.3" rx="2.0" ry="1.9" fill="#6e6e6e" filter="url(#mri-b1)"/>
<ellipse cx="167.9" cy="199.3" rx="1.8" ry="2.7" fill="#6e6e6e" filter="url(#mri-b1)"/>
<ellipse cx="229.2" cy="295.7" rx="1.6" ry="3.4" fill="#6e6e6e" filter="url(#mri-b1)"/>
<ellipse cx="244.3" cy="315.9" rx="2.1" ry="2.5" fill="#3c3c3c" filter="url(#mri-b1)"/>
<ellipse cx="227.6" cy="185.1" rx="2.4" ry="1.8" fill="#5a5a5a" filter="url(#mri-b1)"/>
<ellipse cx="252.4" cy="98.4" rx="1.9" ry="3.1" fill="#4b4b4b" filter="url(#mri-b1)"/>
<ellipse cx="244.5" cy="301.3" rx="2.3" ry="2.4" fill="#3c3c3c" filter="url(#mri-b1)"/>
<ellipse cx="201.8" cy="135.0" rx="1.9" ry="2.2" fill="#828282" filter="url(#mri-b1)"/>
<ellipse cx="253.1" cy="118.7" rx="1.4" ry="3.0" fill="#4b4b4b" filter="url(#mri-b1)"/>
<ellipse cx="201.8" cy="255.0" rx="1.5" ry="2.5" fill="#5a5a5a" filter="url(#mri-b1)"/>
<ellipse cx="256.2" cy="169.9" rx="1.9" ry="2.4" fill="#5a5a5a" filter="url(#mri-b1)"/>
<polyline points="211,34 211,56" fill="none" stroke="#5a5a5a" stroke-width="9" stroke-linecap="round" stroke-linejoin="round" filter="url(#mri-b2)"/>
<polyline points="212,52 211,100 213,150 212,200 213,238" fill="none" stroke="#606060" stroke-width="14" stroke-linecap="round" stroke-linejoin="round" filter="url(#mri-b3)"/>
<polyline points="212,66 211,86 212,104" fill="none" stroke="#8c8c8c" stroke-width="6.5" stroke-linecap="round" stroke-linejoin="round" filter="url(#mri-b2)"/>
<polyline points="212,116 213,138 212,158" fill="none" stroke="#9b9b9b" stroke-width="6.5" stroke-linecap="round" stroke-linejoin="round" filter="url(#mri-b2)"/>
<polyline points="213,168 212,200 213,236" fill="none" stroke="#aaaaaa" stroke-width="6.5" stroke-linecap="round" stroke-linejoin="round" filter="url(#mri-b2)"/>
<ellipse cx="190" cy="97" rx="4.5" ry="4.5" fill="#dcdcdc" filter="url(#mri-b15)"/>
<ellipse cx="230" cy="95" rx="4.5" ry="4.5" fill="#878787" filter="url(#mri-b15)"/>
<ellipse cx="193" cy="144" rx="4.5" ry="4.5" fill="#cdcdcd" filter="url(#mri-b15)"/>
<ellipse cx="233" cy="143" rx="4.5" ry="4.5" fill="#e6e6e6" filter="url(#mri-b15)"/>
<ellipse cx="192" cy="183" rx="4.5" ry="4.5" fill="#c3c3c3" filter="url(#mri-b15)"/>
<ellipse cx="232" cy="181" rx="4.5" ry="4.5" fill="#aaaaaa" filter="url(#mri-b15)"/>
<ellipse cx="196" cy="50" rx="4.5" ry="4.5" fill="#5f5f5f" filter="url(#mri-b15)"/>
<ellipse cx="228" cy="48" rx="4.5" ry="4.5" fill="#5f5f5f" filter="url(#mri-b15)"/>
<polyline points="192,183 178,198 164,212" fill="none" stroke="#7d7d7d" stroke-width="4" stroke-linecap="round" stroke-linejoin="round" filter="url(#mri-b15)"/>
<polyline points="232,181 248,198 264,212" fill="none" stroke="#7d7d7d" stroke-width="4" stroke-linecap="round" stroke-linejoin="round" filter="url(#mri-b15)"/>
<polyline points="193,148 190,166" fill="none" stroke="#7d7d7d" stroke-width="4" stroke-linecap="round" stroke-linejoin="round" filter="url(#mri-b15)"/>
<ellipse cx="203" cy="112" rx="2.5" ry="3" fill="#828282" filter="url(#mri-b1)"/>
<ellipse cx="222" cy="110" rx="2.5" ry="3" fill="#828282" filter="url(#mri-b1)"/>
<ellipse cx="203" cy="162" rx="2.5" ry="3" fill="#828282" filter="url(#mri-b1)"/>
<ellipse cx="222" cy="164" rx="2.5" ry="3" fill="#828282" filter="url(#mri-b1)"/>
<ellipse cx="203" cy="132" rx="2.5" ry="3" fill="#828282" filter="url(#mri-b1)"/>
<ellipse cx="221" cy="80" rx="2.5" ry="3" fill="#828282" filter="url(#mri-b1)"/>
<ellipse cx="222" cy="304" rx="58" ry="46" fill="#424242" filter="url(#mri-b5)"/>
<ellipse cx="204" cy="290" rx="18" ry="13" fill="#686868" filter="url(#mri-b3)"/>
<ellipse cx="240" cy="312" rx="20" ry="13" fill="#626262" filter="url(#mri-b3)"/>
<ellipse cx="192" cy="322" rx="14" ry="10" fill="#5c5c5c" filter="url(#mri-b3)"/>
<ellipse cx="222" cy="332" rx="16" ry="9" fill="#606060" filter="url(#mri-b3)"/>
<ellipse cx="214" cy="276" rx="12" ry="7" fill="#282828" filter="url(#mri-b3)"/>
<polyline points="206,196 194,216 178,236" fill="none" stroke="#828282" stroke-width="4" stroke-linecap="round" stroke-linejoin="round" filter="url(#mri-b15)"/>
<polyline points="220,196 234,216 252,240 268,262" fill="none" stroke="#828282" stroke-width="4" stroke-linecap="round" stroke-linejoin="round" filter="url(#mri-b15)"/>
<polyline points="195,239 236,239" fill="none" stroke="#d2d2d2" stroke-width="6" stroke-linecap="round" stroke-linejoin="round" filter="url(#mri-b15)"/>
<polyline points="196,242 186,268 174,298 160,330" fill="none" stroke="#8c8c8c" stroke-width="4.5" stroke-linecap="round" stroke-linejoin="round" filter="url(#mri-b15)"/>
<polyline points="230,242 242,270 262,300 282,322" fill="none" stroke="#878787" stroke-width="4.5" stroke-linecap="round" stroke-linejoin="round" filter="url(#mri-b15)"/>
<polyline points="240,196 262,226 276,250" fill="none" stroke="#696969" stroke-width="3.5" stroke-linecap="round" stroke-linejoin="round" filter="url(#mri-b15)"/>
<polygon points="199,247 229,247 236,260 224,270 204,268 195,258" fill="#000000" filter="url(#mri-b3)"/>
<ellipse cx="264" cy="335" rx="19" ry="16" fill="#707070" filter="url(#mri-b3)"/>
<polyline points="272,342 276,354 270,365" fill="none" stroke="#ebebeb" stroke-width="5" stroke-linecap="round" stroke-linejoin="round" filter="url(#mri-b15)"/>
<polyline points="254,358 266,362" fill="none" stroke="#c8c8c8" stroke-width="8" stroke-linecap="round" stroke-linejoin="round" filter="url(#mri-b2)"/>
<polyline points="177,357 194,361 213,361" fill="none" stroke="#a5a5a5" stroke-width="9" stroke-linecap="round" stroke-linejoin="round" filter="url(#mri-b3)"/>
<ellipse cx="186" cy="362" rx="6" ry="4" fill="#cdcdcd" filter="url(#mri-b15)"/>
<polyline points="229,345 248,349" fill="none" stroke="#d2d2d2" stroke-width="3.5" stroke-linecap="round" stroke-linejoin="round" filter="url(#mri-b1)"/>
<ellipse cx="166" cy="348.7" rx="3.5" ry="3.5" fill="#ffffff" filter="url(#mri-b1)"/>
<ellipse cx="232" cy="368" rx="20" ry="14" fill="#000000" filter="url(#mri-b3)"/>
<ellipse cx="296" cy="162" rx="9" ry="18" fill="#484848" filter="url(#mri-b3)"/>
<polyline points="290,178 300,192 316,180" fill="none" stroke="#555555" stroke-width="3" stroke-linecap="round" stroke-linejoin="round" filter="url(#mri-b15)"/>
<ellipse cx="387" cy="108" rx="3.5" ry="7" fill="#e1e1e1" transform="rotate(25 387 108)" filter="url(#mri-b15)"/>
<polyline points="352,100 362,110 376,106" fill="none" stroke="#5a5a5a" stroke-width="3" stroke-linecap="round" stroke-linejoin="round" filter="url(#mri-b15)"/>
<polyline points="232,240 242,254" fill="none" stroke="#5f5f5f" stroke-width="3" stroke-linecap="round" stroke-linejoin="round" filter="url(#mri-b1)"/>
<polyline points="96,312 110,330" fill="none" stroke="#5a5a5a" stroke-width="3" stroke-linecap="round" stroke-linejoin="round" filter="url(#mri-b15)"/>
</g></g></g>
</g>
</svg>
<!--MRI-END-->
  <div class="lab t" id="la" style="left:12.2px; top:12px;">(A)</div>
  <div class="lab t" id="lb" style="left:12.2px; top:441px;">(B)</div>
</div>
</body>
</html>
